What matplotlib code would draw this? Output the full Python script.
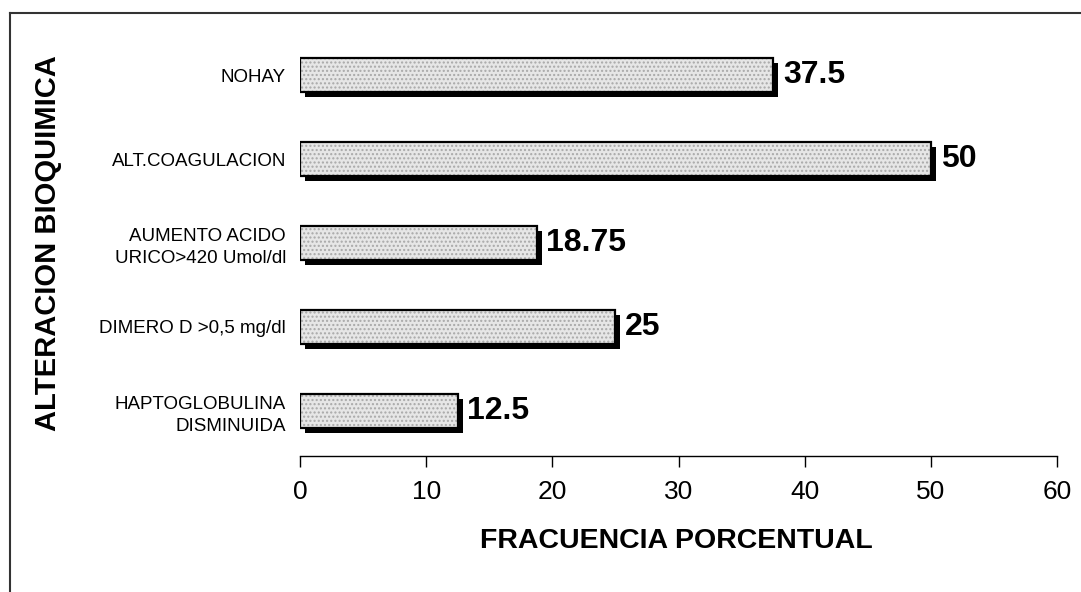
import numpy as np
import matplotlib.pyplot as plt
from matplotlib.lines import Line2D
from matplotlib.transforms import offset_copy

plt.rcParams['font.family'] = ['Liberation Sans', 'DejaVu Sans']

# categories from bottom to top
categorias = ['HAPTOGLOBULINA\nDISMINUIDA', 'DIMERO D >0,5 mg/dl',
              'AUMENTO ACIDO\nURICO>420 Umol/dl', 'ALT.COAGULACION', 'NOHAY']
frecuencia = [12.5, 25, 18.75, 50, 37.5]
etiquetas = ['12.5', '25', '18.75', '50', '37.5']
xticks = [0, 10, 20, 30, 40, 50, 60]

fig = plt.figure(figsize=(10.81, 5.92), dpi=100)
ax = fig.add_axes([300/1081, 1-456/592, 757/1081, 416/592])

y = np.arange(len(categorias))
h = 0.41
# black drop shadow, shifted right/down by a few pixels
sombra_tr = offset_copy(ax.transData, fig=fig, x=5, y=-5, units='dots')
ax.barh(y, frecuencia, height=h, color='black', linewidth=0, transform=sombra_tr, zorder=1)
ax.barh(y, frecuencia, height=h, color='#e6e6e6', edgecolor='#a8a8a8',
        hatch='....', linewidth=0, zorder=2)
ax.barh(y, frecuencia, height=h, fill=False, edgecolor='black', linewidth=1.6, zorder=3)

for yi, v, t in zip(y, frecuencia, etiquetas):
    ax.annotate(t, (v, yi), xytext=(7, 0), textcoords='offset points',
                va='center', ha='left', fontsize=23, fontweight='bold')

ax.set_xlim(0, 60)
ax.set_ylim(-0.54, 4.42)
ax.set_xticks(xticks)
ax.set_yticks(y)
ax.set_yticklabels(categorias, fontsize=13.5, linespacing=1.4)
ax.tick_params(axis='y', length=0, pad=10)
ax.tick_params(axis='x', direction='out', length=8, width=1, labelsize=19, pad=9)
for s in ['top', 'right', 'left']:
    ax.spines[s].set_visible(False)
ax.spines['bottom'].set_linewidth(1)

fig.text(676/1081, 1-541/592, 'FRACUENCIA PORCENTUAL', ha='center', va='center',
         fontsize=20.5, fontweight='bold')
fig.text(48/1081, 1-243/592, 'ALTERACION BIOQUIMICA', ha='center', va='center',
         rotation=90, fontsize=21, fontweight='bold')

# outer frame (top and left edges only visible)
fig.add_artist(Line2D([10/1081, 1], [1-13/592, 1-13/592], color='#333333', lw=1.5))
fig.add_artist(Line2D([10/1081, 10/1081], [0, 1-13/592], color='#333333', lw=1.5))

fig.savefig('out.png', dpi=100)
